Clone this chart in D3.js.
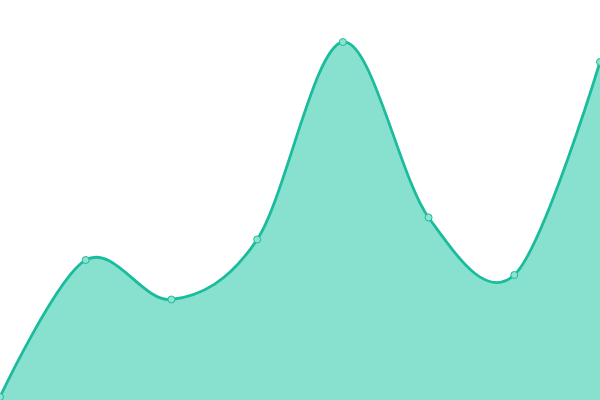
<!DOCTYPE html>
<html>
<head>
<meta charset="utf-8">
<script src="https://cdn.jsdelivr.net/npm/d3@7"></script>
<style>
  html, body { margin: 0; padding: 0; background: #fff; }
  svg { display: block; }
</style>
</head>
<body>
<svg id="chart"></svg>
<script>
// chart data
const categories = ['0', '1', '2', '3', '4', '5', '6', '7'];
const values = [3, 140, 100.5, 160.5, 358, 182.5, 125, 338];

const width = 600;
const height = 400;

const svg = d3.select('#chart')
  .attr('width', width)
  .attr('height', height);

const x = d3.scalePoint()
  .domain(categories)
  .range([0, width]);

const y = d3.scaleLinear()
  .domain([0, 400])
  .range([height, 0]);

const data = categories.map((c, i) => ({ cat: c, value: values[i] }));

const curve = d3.curveCardinal.tension(0);

const area = d3.area()
  .x(d => x(d.cat))
  .y0(y(0))
  .y1(d => y(d.value))
  .curve(curve);

const line = d3.line()
  .x(d => x(d.cat))
  .y(d => y(d.value))
  .curve(curve);

svg.append('path')
  .datum(data)
  .attr('fill', '#88e0cf')
  .attr('d', area);

svg.append('path')
  .datum(data)
  .attr('fill', 'none')
  .attr('stroke', '#1abc9c')
  .attr('stroke-width', 2.8)
  .attr('d', line);

svg.selectAll('.dot')
  .data(data)
  .enter()
  .append('circle')
  .classed('dot', true)
  .attr('cx', d => x(d.cat))
  .attr('cy', d => y(d.value))
  .attr('r', 3.5)
  .attr('fill', '#8fe2d1')
  .attr('stroke', '#1abc9c')
  .attr('stroke-width', 1);
</script>
</body>
</html>
